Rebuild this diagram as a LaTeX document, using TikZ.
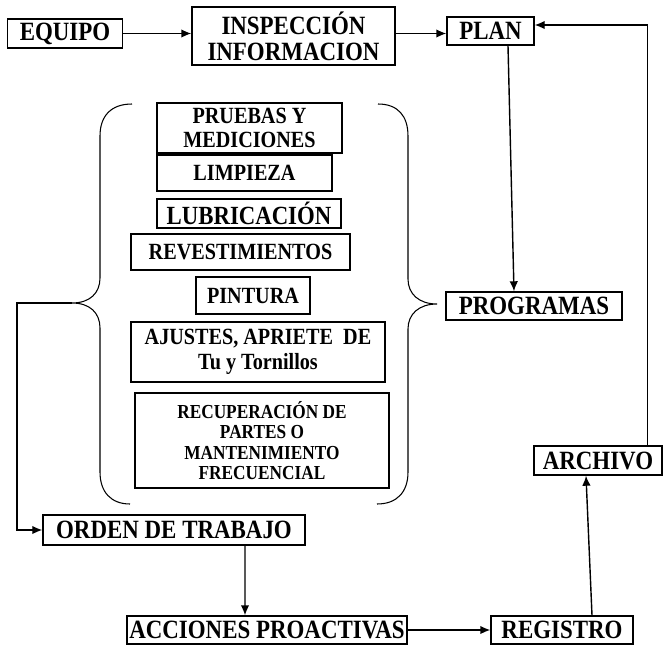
\documentclass[tikz,border=0pt]{standalone}
\usepackage{fontspec}
\setmainfont{Liberation Serif}[FakeStretch=0.87]
\usetikzlibrary{arrows.meta}
\begin{document}
\begin{tikzpicture}[thick, >={Latex[length=2mm,width=1.7mm]},
    box/.style={draw, inner sep=0pt, align=center, font=\bfseries\fontsize{15}{15}\selectfont},
    tarea/.style={box, font=\bfseries\fontsize{13.2}{13.6}\selectfont}]
        \useasboundingbox (0,0) rectangle (13.3,-12.9);
        % fila de arriba
        \node[box, minimum width=2.3cm, minimum height=0.58cm] (equipo) at (1.3,-0.67) {EQUIPO};
        \node[box, minimum width=4.06cm, minimum height=1.16cm] (insp) at (5.87,-0.72) {INSPECCIÓN\\INFORMACION};
        \node[box, minimum width=1.74cm, minimum height=0.56cm] (plan) at (9.81,-0.62) {PLAN};
        % tareas dentro de las llaves
        \node[tarea, minimum width=3.7cm, minimum height=1.0cm] (pruebas) at (4.99,-2.56) {PRUEBAS Y\\MEDICIONES};
        \node[tarea, minimum width=3.5cm, minimum height=0.72cm] (limpieza) at (4.89,-3.46) {LIMPIEZA};
        \node[tarea, minimum width=3.68cm, minimum height=0.58cm, font=\bfseries\fontsize{14.9}{14}\selectfont] (lubric) at (4.98,-4.27) {LUBRICACIÓN};
        \node[tarea, minimum width=4.38cm, minimum height=0.72cm] (revest) at (4.81,-5.04) {REVESTIMIENTOS};
        \node[tarea, minimum width=2.28cm, minimum height=0.74cm] (pintura) at (5.06,-5.91) {PINTURA};
        \node[tarea, minimum width=5.08cm, minimum height=1.2cm, font=\bfseries\fontsize{13.2}{14.2}\selectfont] (ajustes) at (5.16,-7.04) {AJUSTES, APRIETE\ \ DE\\Tu y Tornillos};
        \node[tarea, minimum width=5.08cm, minimum height=1.9cm, font=\bfseries\fontsize{11.3}{11.7}\selectfont] (recup) at (5.24,-8.81) {RECUPERACIÓN DE\\PARTES O\\MANTENIMIENTO\\FRECUENCIAL};
        % resto
        \node[box, minimum width=3.52cm, minimum height=0.56cm] (programas) at (10.68,-6.12) {PROGRAMAS};
        \node[box, minimum width=2.56cm, minimum height=0.58cm] (archivo) at (11.96,-9.21) {ARCHIVO};
        \node[box, minimum width=5.24cm, minimum height=0.6cm] (orden) at (3.48,-10.6) {ORDEN DE TRABAJO};
        \node[box, minimum width=5.6cm, minimum height=0.56cm] (acciones) at (5.34,-12.6) {ACCIONES PROACTIVAS};
        \node[box, minimum width=2.84cm, minimum height=0.56cm] (registro) at (11.24,-12.6) {REGISTRO};
        % llaves
        \coordinate (tipL) at (1.44,-6.06);
        \coordinate (tipR) at (8.74,-6.08);
        \draw[semithick] (2.64,-2.08) .. controls (2.22,-2.08) and (2.0,-2.32) .. (2.0,-2.72) -- (2.0,-5.56)
            .. controls (2.0,-5.86) and (1.8,-6.06) .. (tipL)
            .. controls (1.8,-6.06) and (2.0,-6.26) .. (2.0,-6.56) -- (2.0,-9.44)
            .. controls (2.0,-9.84) and (2.22,-10.08) .. (2.6,-10.08);
        \draw[semithick] (7.56,-2.08) .. controls (7.96,-2.08) and (8.16,-2.32) .. (8.16,-2.72) -- (8.16,-5.58)
            .. controls (8.16,-5.88) and (8.38,-6.08) .. (tipR)
            .. controls (8.38,-6.08) and (8.16,-6.28) .. (8.16,-6.58) -- (8.16,-9.44)
            .. controls (8.16,-9.84) and (7.94,-10.08) .. (7.54,-10.08);
        % flechas
        \draw[->] (equipo) -- (insp.west |- equipo);
        \draw[->] (insp.east |- equipo) -- (plan.west |- equipo);
        \draw[->] ([xshift=0.35cm]plan.south) -- ([xshift=-0.4cm]programas.north);
        \draw[->] ([xshift=0.99cm]archivo.north) |- ([yshift=0.12cm]plan.east);
        \draw[->] (tipL) -- ++(-1.1,0) |- (orden.west);
        \draw[->] ([xshift=1.42cm]orden.south) -- ([xshift=-0.44cm]acciones.north);
        \draw[->] (acciones) -- (registro);
        \draw[->] ([xshift=0.6cm]registro.north) -- ([xshift=-0.24cm]archivo.south);
\end{tikzpicture}
\end{document}
